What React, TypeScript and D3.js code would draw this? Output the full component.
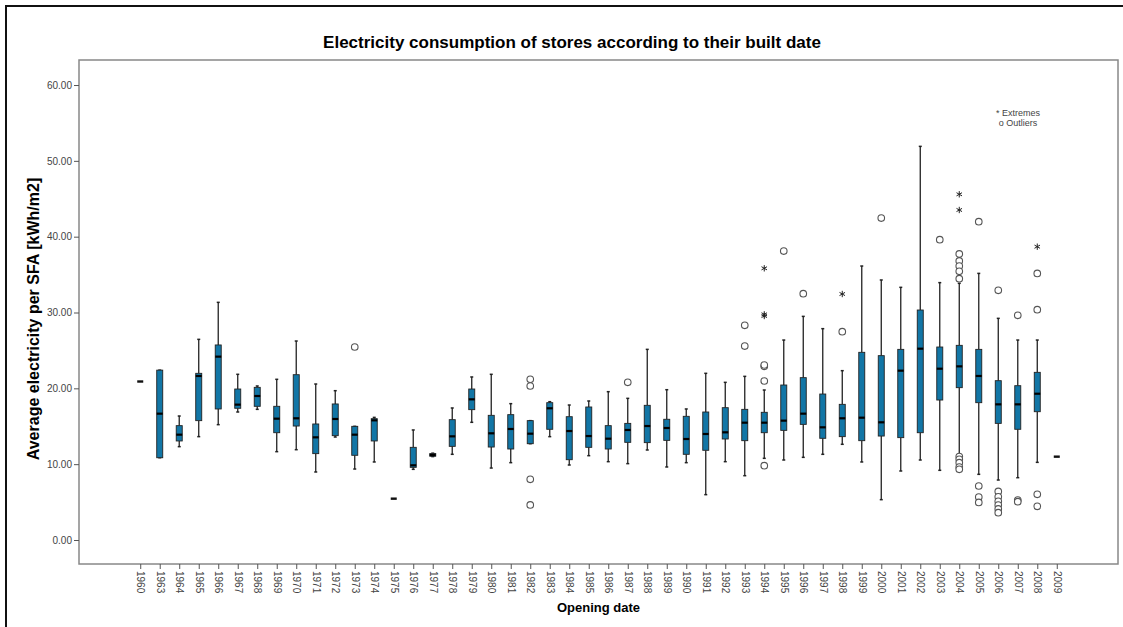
import React, { useEffect, useRef } from "react";
import * as d3 from "d3";

// opening years (categories)
const years = [
  1960, 1963, 1964, 1965, 1966, 1967, 1968, 1969, 1970, 1971, 1972, 1973, 1974, 1975, 1976, 1977,
  1978, 1979, 1980, 1981, 1982, 1983, 1984, 1985, 1986, 1987, 1988, 1989, 1990, 1991, 1992, 1993,
  1994, 1995, 1996, 1997, 1998, 1999, 2000, 2001, 2002, 2003, 2004, 2005, 2006, 2007, 2008, 2009,
];

// box statistics (kWh/m2)
const whiskerLow = [
  20.9, 10.85, 12.31, 13.63, 15.21, 16.88, 17.23, 11.65, 11.91, 8.97, 13.58, 9.36, 10.29, 5.45, 9.32, 11.0,
  11.3, 15.52, 9.49, 10.2, 12.7, 13.63, 9.89, 11.12, 10.33, 10.07, 11.87, 9.63, 10.2, 5.98, 10.33, 8.48,
  10.77, 10.55, 10.9, 11.3, 12.62, 10.29, 5.32, 9.1, 10.55, 9.19, 11.3, 8.66, 7.91, 8.22, 10.24, 10.99,
];
const q1 = [
  20.9, 10.85, 13.06, 15.74, 17.28, 17.37, 17.63, 14.15, 15.03, 11.39, 13.76, 11.17, 13.06, 5.45, 9.58, 11.05,
  12.35, 17.19, 12.26, 12.0, 12.7, 14.6, 10.59, 12.22, 12.0, 12.88, 12.84, 13.14, 11.3, 11.83, 13.32, 13.1,
  14.15, 14.46, 15.25, 13.41, 13.63, 13.1, 13.71, 13.5, 14.15, 18.46, 20.09, 18.11, 15.38, 14.6, 16.92, 10.99,
];
const median = [
  20.9, 16.66, 13.89, 21.63, 24.18, 17.85, 18.99, 16.0, 16.05, 13.54, 15.96, 13.89, 15.78, 5.45, 9.85, 11.2,
  13.67, 18.55, 14.07, 14.64, 14.02, 17.37, 14.37, 13.71, 13.36, 14.51, 15.03, 14.77, 13.32, 13.98, 14.2, 15.47,
  15.47, 15.74, 16.66, 14.86, 16.05, 16.13, 15.52, 22.33, 25.23, 22.59, 22.9, 21.63, 17.89, 17.89, 19.29, 10.99,
];
const q3 = [
  20.9, 22.4, 15.08, 21.98, 25.72, 19.91, 20.13, 17.63, 21.8, 15.3, 17.94, 14.99, 16.0, 5.45, 12.22, 11.4,
  15.87, 19.91, 16.44, 16.53, 15.74, 18.11, 16.26, 17.54, 15.08, 15.38, 17.76, 15.92, 16.31, 16.88, 17.45, 17.23,
  16.84, 20.44, 21.41, 19.25, 17.89, 24.75, 24.31, 25.14, 30.33, 25.45, 25.67, 25.14, 21.01, 20.35, 22.11, 10.99,
];
const whiskerHigh = [
  20.9, 22.4, 16.35, 26.46, 31.34, 21.85, 20.31, 21.19, 26.24, 20.57, 19.69, 14.99, 16.17, 5.45, 14.51, 11.45,
  17.41, 21.5, 21.85, 17.98, 15.74, 18.24, 17.8, 18.33, 19.56, 18.68, 25.14, 19.82, 17.28, 21.98, 20.79, 21.58,
  19.78, 26.37, 29.49, 27.87, 22.33, 36.13, 34.29, 33.32, 51.91, 33.94, 33.85, 35.16, 29.23, 26.37, 26.37, 10.99,
];

// outliers (circles) and extremes (stars) by year
const outliers: Record<number, number[]> = {
  1973: [25.45],
  1982: [21.19, 20.31, 8.0, 4.62],
  1987: [20.79],
  1993: [28.31, 25.58],
  1994: [22.9, 23.08, 20.97, 9.8],
  1995: [38.1],
  1996: [32.48],
  1998: [27.47],
  2000: [42.46],
  2003: [39.6],
  2004: [37.72, 36.8, 36.13, 35.43, 34.46, 11.0, 10.64, 10.2, 9.63, 9.32],
  2005: [41.98, 7.12, 5.67, 4.95],
  2006: [32.92, 6.4, 5.7, 5.1, 4.6, 4.1, 3.6],
  2007: [29.63, 5.27, 5.05],
  2008: [35.16, 30.37, 6.02, 4.44],
};
const extremes: Record<number, number[]> = {
  1994: [35.83, 29.76, 29.54],
  1998: [32.44],
  2004: [45.59, 43.52],
  2008: [38.68],
};

const yTicks = [0, 10, 20, 30, 40, 50, 60];

const font = "'Liberation Sans', Arial, sans-serif";

const App = () => {
  const svgRef = useRef<SVGSVGElement>(null);

  useEffect(() => {
    const width = 1123;
    const height = 627;
    const frame = { left: 79, top: 60, right: 1118, bottom: 564 };

    const svg = d3.select(svgRef.current).attr("width", width).attr("height", height);
    svg.selectAll("*").remove();

    // outer border
    svg.append("rect")
      .attr("x", 6).attr("y", 6).attr("width", 1140).attr("height", 640)
      .attr("fill", "white").attr("stroke", "#111").attr("stroke-width", 2);

    const x = d3.scalePoint<number>()
      .domain(years)
      .range([frame.left, frame.right])
      .padding(3.14);

    const y = d3.scaleLinear()
      .domain([-3.165, 63.3])
      .range([frame.bottom, frame.top]);

    // title
    svg.append("text")
      .attr("x", 572).attr("y", 48)
      .attr("text-anchor", "middle")
      .style("font-family", font).style("font-size", "17px").style("font-weight", "bold")
      .text("Electricity consumption of stores according to their built date");

    // plot frame
    svg.append("rect")
      .attr("x", frame.left).attr("y", frame.top)
      .attr("width", frame.right - frame.left).attr("height", frame.bottom - frame.top)
      .attr("fill", "none").attr("stroke", "#888").attr("stroke-width", 1.5);

    // y axis
    const yAxis = d3.axisLeft(y).tickValues(yTicks).tickSize(5).tickFormat(d3.format(".2f"));
    const gy = svg.append("g").attr("transform", `translate(${frame.left},0)`).call(yAxis);
    gy.select(".domain").remove();
    gy.selectAll(".tick line").attr("stroke", "#555");
    gy.selectAll(".tick text")
      .attr("fill", "#444").attr("x", -7)
      .style("font-family", font).style("font-size", "10px");

    // x axis
    const xAxis = d3.axisBottom(x).tickSize(5);
    const gx = svg.append("g").attr("transform", `translate(0,${frame.bottom})`).call(xAxis);
    gx.select(".domain").remove();
    gx.selectAll(".tick line").attr("stroke", "#555");
    gx.selectAll(".tick text")
      .attr("fill", "#444")
      .attr("transform", "rotate(90)")
      .attr("x", 7).attr("y", 0).attr("dy", "0.35em")
      .style("text-anchor", "start")
      .style("font-family", font).style("font-size", "10px");

    // axis titles
    svg.append("text")
      .attr("x", (frame.left + frame.right) / 2).attr("y", 612)
      .attr("text-anchor", "middle")
      .style("font-family", font).style("font-size", "13px").style("font-weight", "bold")
      .text("Opening date");

    svg.append("text")
      .attr("transform", `translate(39,319) rotate(-90)`)
      .attr("text-anchor", "middle")
      .style("font-family", font).style("font-size", "16px").style("font-weight", "bold")
      .text("Average electricity per SFA [kWh/m2]");

    const boxW = 6;
    const g = svg.append("g");

    years.forEach((yr, i) => {
      const cx = x(yr) as number;
      const lo = whiskerLow[i], a = q1[i], m = median[i], b = q3[i], hi = whiskerHigh[i];

      if (lo === hi) {
        // single store: short dash
        g.append("rect")
          .attr("x", cx - 3).attr("y", y(m) - 1.2).attr("width", 6).attr("height", 2.4)
          .attr("fill", "#111");
        return;
      }

      // whiskers
      [[hi, b], [a, lo]].forEach(([v1, v2]) => {
        if (v1 - v2 < 0.01) return;
        g.append("line")
          .attr("x1", cx).attr("x2", cx).attr("y1", y(v1)).attr("y2", y(v2))
          .attr("stroke", "#222").attr("stroke-width", 1.3);
      });
      [lo, hi].forEach((v) => {
        g.append("line")
          .attr("x1", cx - 1.5).attr("x2", cx + 1.5).attr("y1", y(v)).attr("y2", y(v))
          .attr("stroke", "#222").attr("stroke-width", 1.5);
      });

      // box
      g.append("rect")
        .attr("x", cx - boxW / 2).attr("y", y(b))
        .attr("width", boxW).attr("height", Math.max(1, y(a) - y(b)))
        .attr("fill", "#1276a6").attr("stroke", "#222").attr("stroke-width", 0.9);

      // median
      g.append("line")
        .attr("x1", cx - boxW / 2).attr("x2", cx + boxW / 2).attr("y1", y(m)).attr("y2", y(m))
        .attr("stroke", "#000").attr("stroke-width", 2.2);

      (outliers[yr] || []).forEach((v) => {
        g.append("circle")
          .attr("cx", cx).attr("cy", y(v)).attr("r", 3.3)
          .attr("fill", "white").attr("stroke", "#555").attr("stroke-width", 1.1);
      });

      (extremes[yr] || []).forEach((v) => {
        g.append("path")
          .attr("transform", `translate(${cx},${y(v)})`)
          .attr("d", d3.symbol().type(d3.symbolAsterisk).size(28)())
          .attr("fill", "none").attr("stroke", "#222").attr("stroke-width", 1);
      });
    });

    // legend
    const legend = svg.append("g")
      .style("font-family", font).style("font-size", "9px").attr("fill", "#444");
    legend.append("text").attr("x", 1018).attr("y", 116).attr("text-anchor", "middle").text("* Extremes");
    legend.append("text").attr("x", 1018).attr("y", 126).attr("text-anchor", "middle").text("o Outliers");
  }, []);

  return (
    <svg
      ref={svgRef}
      style={{ position: "absolute", left: 0, top: 0, background: "white" }}
    ></svg>
  );
};

export default App;
